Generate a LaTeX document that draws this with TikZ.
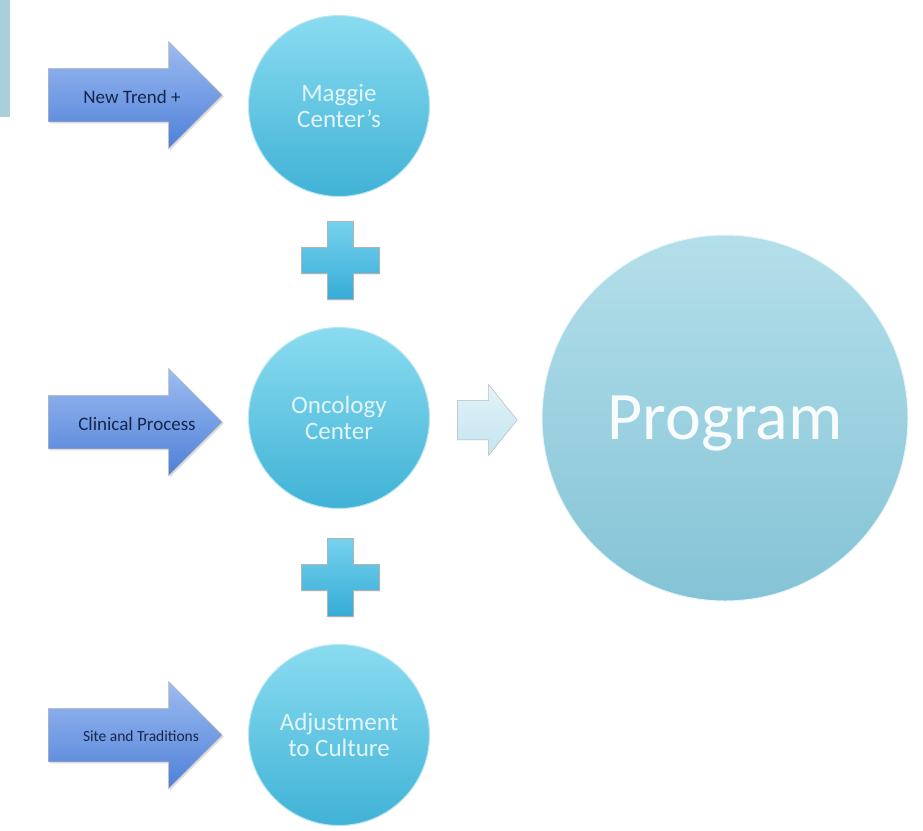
\documentclass[tikz,border=0pt]{standalone}
\usepackage{fontspec}
\setmainfont{Carlito}
\usepackage{tikz}
\usetikzlibrary{shapes.arrows,shadows}
\definecolor{circtop}{HTML}{8ADCF0}
\definecolor{circbot}{HTML}{40B2D6}
\definecolor{circrim}{HTML}{B8E6F2}
\definecolor{circtext}{HTML}{E2F5FA}
\definecolor{progtop}{HTML}{B4DFEA}
\definecolor{progbot}{HTML}{84C3D6}
\definecolor{arrtop}{HTML}{9DBCF1}
\definecolor{arrbot}{HTML}{4E80D8}
\definecolor{arrtext}{HTML}{15264C}
\definecolor{crosstop}{HTML}{76D2EE}
\definecolor{crossbot}{HTML}{36ACD6}
\definecolor{midtop}{HTML}{E2F3F9}
\definecolor{midbot}{HTML}{C4E4EF}
\definecolor{sidebar}{HTML}{A9CFDB}
\newcommand{\plusbox}[1]{\draw[crossfill,shift={(#1)}] (-13,-39) -- (13,-39) -- (13,-13) -- (39,-13) -- (39,13) -- (13,13) -- (13,39) -- (-13,39) -- (-13,13) -- (-39,13) -- (-39,-13) -- (-13,-13) -- cycle;}
\tikzset{
	stage/.style={circle,minimum size=181pt,inner sep=0pt,top color=circtop,bottom color=circbot,draw=circrim,line width=1pt,text=circtext,align=center,font=\fontsize{25}{26}\selectfont},
	inflow/.style={single arrow,anchor=tail,single arrow head extend=27pt,minimum width=107pt,minimum height=174pt,inner xsep=0pt,inner ysep=26.5pt,top color=arrtop,bottom color=arrbot,draw=gray!55,line width=0.5pt,drop shadow={opacity=0.25,shadow xshift=1.5pt,shadow yshift=-1.5pt}},
	inflowtext/.style={inner sep=0pt,text=arrtext},
	crossfill/.style={top color=crosstop,bottom color=crossbot,draw=gray!60,line width=0.6pt,drop shadow={opacity=0.2,shadow xshift=1pt,shadow yshift=-1.5pt}},
}

\begin{document}
\begin{tikzpicture}[x=1pt,y=-1pt]
		\useasboundingbox (0,0) rectangle (923,830);
		\fill[sidebar] (0,0) rectangle (10,117);
		\begin{scope}
			\node[stage] (maggie) at (339,106) {Maggie\\Center's};
			\node[stage] (onc) at (339,418) {Oncology\\Center};
			\node[stage] (adj) at (339,735) {Adjustment\\to Culture};
			\node[circle,minimum size=366pt,inner sep=0pt,text depth=0pt,top color=progtop,bottom color=progbot,draw=white!70!progtop,line width=1pt,text=white!90!progtop,font=\fontsize{68}{68}\selectfont] (prog) at (725,418) {Program};
		
			\node[inflow] (trend) at (48,95) {};
			\node[inflow] (clin) at (48,422) {};
			\node[inflow] (site) at (48,735) {};
			\node[inflowtext,font=\fontsize{19}{19}\selectfont] (trendtext) at (132,97) {New Trend +};
			\node[inflowtext,font=\fontsize{19}{19}\selectfont] (clintext) at (137,424) {Clinical Process};
			\node[inflowtext,font=\fontsize{15.5}{15.5}\selectfont] (sitetext) at (141,736) {Site and Traditions};
		
			\coordinate (p1) at (340,260);
			\coordinate (p2) at (340,577);
			\plusbox{p1}
			\plusbox{p2}
		
			\node[single arrow,anchor=tail,single arrow head extend=15.5pt,single arrow tip angle=102,minimum width=70pt,minimum height=60pt,inner xsep=0pt,inner ysep=19.5pt,top color=midtop,bottom color=midbot,draw=gray!55,line width=0.5pt] (mid) at (457,420) {};
		\end{scope}
	\end{tikzpicture}
\end{document}
